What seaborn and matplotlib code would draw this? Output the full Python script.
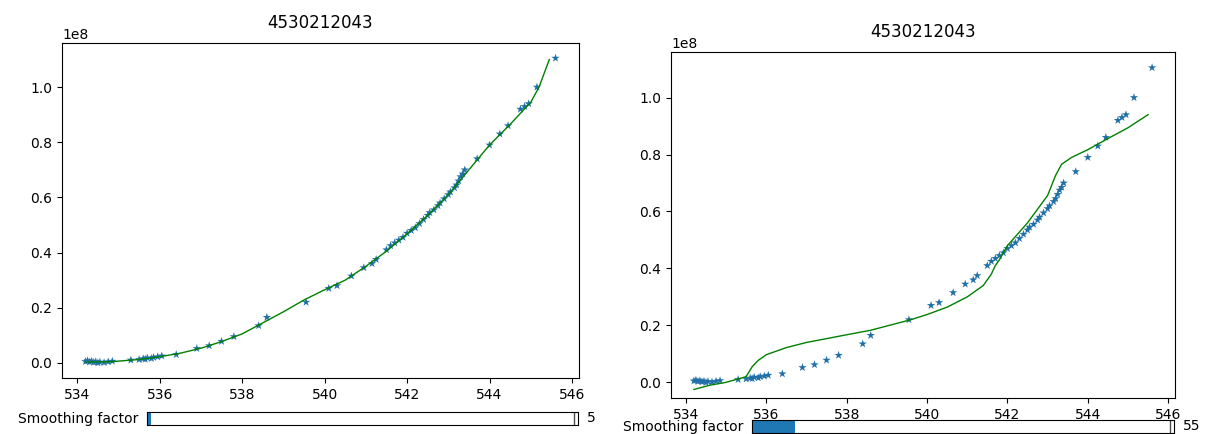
import numpy as np
import pandas as pd
import matplotlib
matplotlib.use("Agg")
import matplotlib.pyplot as plt
import seaborn as sns

title = "4530212043"

# measured points (x, y in units of 1e8)
x_pts = [534.20, 534.25, 534.30, 534.35, 534.40, 534.45, 534.50, 534.55, 534.65, 534.75,
         534.85, 535.30, 535.50, 535.60, 535.65, 535.70, 535.80, 535.85, 535.95, 536.05,
         536.40, 536.90, 537.20, 537.50, 537.80, 538.40, 538.60, 539.55, 540.10, 540.30,
         540.65, 540.95, 541.15, 541.25, 541.50, 541.60, 541.70, 541.80, 541.90, 542.00,
         542.10, 542.20, 542.30, 542.40, 542.50, 542.55, 542.65, 542.75, 542.80, 542.90,
         543.00, 543.05, 543.15, 543.20, 543.25, 543.30, 543.35, 543.40, 543.70, 544.00,
         544.25, 544.45, 544.75, 544.85, 544.95, 545.15, 545.60]
y_pts = [0.005, 0.008, 0.003, 0.006, 0.002, 0.004, 0.000, 0.003, 0.001, 0.004,
         0.006, 0.010, 0.012, 0.015, 0.013, 0.018, 0.016, 0.020, 0.022, 0.025,
         0.030, 0.052, 0.062, 0.078, 0.095, 0.135, 0.165, 0.220, 0.270, 0.280,
         0.315, 0.345, 0.360, 0.375, 0.410, 0.425, 0.435, 0.445, 0.455, 0.470,
         0.480, 0.490, 0.505, 0.520, 0.535, 0.545, 0.555, 0.570, 0.580, 0.595,
         0.610, 0.620, 0.635, 0.645, 0.660, 0.675, 0.685, 0.700, 0.740, 0.790,
         0.830, 0.860, 0.920, 0.930, 0.940, 1.000, 1.105]

# smoothing spline, factor 5 (left)
x_fit5 = [534.2, 534.8, 535.5, 536.0, 536.5, 537.0, 537.5, 538.0, 538.5, 539.0, 539.5,
          540.0, 540.5, 541.0, 541.5, 542.0, 542.5, 543.0, 543.5, 544.0, 544.5, 545.0,
          545.2, 545.3, 545.45]
y_fit5 = [0.003, 0.004, 0.012, 0.022, 0.035, 0.053, 0.077, 0.105, 0.145, 0.185, 0.228,
          0.265, 0.300, 0.350, 0.405, 0.468, 0.535, 0.610, 0.700, 0.790, 0.865, 0.945,
          1.000, 1.040, 1.100]

# smoothing spline, factor 55 (right)
x_fit55 = [534.2, 534.6, 535.0, 535.5, 535.65, 535.8, 536.0, 536.5, 537.0, 538.0, 538.6,
           539.6, 540.0, 540.5, 541.0, 541.4, 541.6, 541.7, 541.8, 542.0, 542.5, 543.0,
           543.2, 543.35, 543.6, 544.0, 544.5, 545.0, 545.5]
y_fit55 = [-0.025, -0.010, 0.000, 0.020, 0.055, 0.077, 0.097, 0.122, 0.140, 0.167, 0.183,
           0.220, 0.238, 0.264, 0.300, 0.340, 0.380, 0.410, 0.430, 0.480, 0.560, 0.656,
           0.727, 0.766, 0.790, 0.817, 0.856, 0.894, 0.940]

y_range = [-0.055, 1.16]

slider_label = "Smoothing factor"
slider_vals = [5, 55]
slider_max = 540
slider_init = 535

W, H = 1217, 434
fig = plt.figure(figsize=(W / 100, H / 100), dpi=100)

def px_axes(x0, y0, x1, y1):
    return fig.add_axes([x0 / W, 1 - y1 / H, (x1 - x0) / W, (y1 - y0) / H])

pts = pd.DataFrame({"x": x_pts, "y": np.array(y_pts) * 1e8})
panels = [
    dict(box=(62, 43, 579, 378), fx=x_fit5, fy=y_fit5, sbox=(147, 412, 578, 425), sv=slider_vals[0]),
    dict(box=(671, 52, 1175, 398), fx=x_fit55, fy=y_fit55, sbox=(752, 420, 1174, 433), sv=slider_vals[1]),
]

for p in panels:
    ax = px_axes(*p["box"])
    sns.scatterplot(data=pts, x="x", y="y", marker="*", s=40, color="#1f6fa8",
                    edgecolor="none", ax=ax, zorder=2)
    fit = pd.DataFrame({"x": p["fx"], "y": np.array(p["fy"]) * 1e8})
    sns.lineplot(data=fit, x="x", y="y", color="g", lw=1, ax=ax, sort=False,
                 estimator=None, zorder=3)
    ax.set_xlabel("")
    ax.set_ylabel("")
    ax.set_title(title, fontsize=12, pad=11)
    ax.set_xticks([534, 536, 538, 540, 542, 544, 546])
    ax.set_ylim(y_range[0] * 1e8, y_range[1] * 1e8)

    sax = px_axes(*p["sbox"])
    sax.barh([0], [p["sv"]], height=1, color="#1f77b4", align="center")
    sax.axvline(slider_init, color="0.3", lw=1)
    sax.set_xlim(0, slider_max)
    sax.set_ylim(-0.5, 0.5)
    sax.set_xticks([])
    sax.set_yticks([])
    sax.text(-0.02, 0.5, slider_label, transform=sax.transAxes, ha="right", va="center", fontsize=10)
    sax.text(1.02, 0.5, str(p["sv"]), transform=sax.transAxes, ha="left", va="center", fontsize=10)

fig.savefig("out.png", dpi=100)
